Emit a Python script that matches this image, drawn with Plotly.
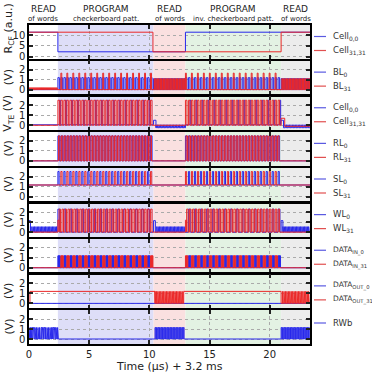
import plotly.graph_objects as go

# ---------------- data ----------------
phase_edges = [0.0, 2.4, 10.35, 13.0, 20.95, 23.35]
phase_titles = ["READ", "PROGRAM", "READ", "PROGRAM", "READ"]
phase_subtitles = ["of words", "checkerboard patt.", "of words",
                   "inv. checkerboard patt.", "of words"]
x_ticks = [0, 5, 10, 15, 20]
x_range = [0, 23.35]
x_title = "Time (µs) + 3.2 ms"


def train(t0, t1, n, lo, hi, duty=0.5, first=0, step=1, off=0.0):
    return ("train", t0, t1, n, lo, hi, duty, first, step, off)


def flat(t0, t1, v):
    return ("flat", t0, t1, v)


# panel 1 : R_CF
rcf_cell00 = [flat(0, 2.4, 11.3), flat(2.4, 13.0, 2.3), flat(13.0, 23.35, 11.3)]
rcf_cell3131 = [flat(0, 10.3, 11.3), flat(10.3, 20.95, 2.3), flat(20.95, 23.35, 11.3)]
# panel 2 : BL
bl_0 = [flat(0, 2.4, 0.0), train(2.4, 10.35, 32, 0, 1.2, 0.5),
        train(10.35, 13.0, 22, 0, 1.1, 0.5), train(13.0, 20.95, 32, 0, 1.2, 0.5),
        train(20.95, 23.35, 20, 0, 1.1, 0.5)]
bl_31 = [train(0, 2.4, 30, 0, 0.2, 0.5), train(2.4, 10.35, 32, 0, 1.65, 0.3, 1, 2),
         train(10.35, 13.0, 22, 0, 1.1, 0.35, 0, 1, 0.5), train(13.0, 20.95, 32, 0, 1.65, 0.3, 0, 2),
         train(20.95, 23.35, 20, 0, 1.1, 0.35, 0, 1, 0.5)]
# panel 3 : V_TE
vte_cell00 = [flat(0, 2.4, 0.05), train(2.4, 10.35, 32, 0.05, 2.5, 0.3, 0, 2, 0.55),
              flat(10.35, 10.55, 0.5), train(10.55, 13.0, 20, -0.25, 0.05, 0.5),
              train(13.0, 20.95, 32, 0.05, 2.5, 0.3, 1, 2, 0.55),
              flat(20.95, 21.15, 0.5), train(21.15, 23.35, 18, -0.25, 0.05, 0.5)]
vte_cell3131 = [flat(0, 2.4, 0.0), train(2.4, 10.35, 32, 0, 2.5, 0.5),
                flat(10.35, 13.0, 0.0), train(13.0, 20.95, 32, 0, 2.5, 0.5),
                flat(20.95, 21.25, 0.7), flat(21.25, 23.35, -0.1)]
# panel 4 : RL
rl_0 = [flat(0, 2.4, 0), train(2.4, 10.35, 32, 0, 2.5, 0.5),
        flat(10.35, 13.0, 0), train(13.0, 20.95, 32, 0, 2.5, 0.5), flat(20.95, 23.35, 0)]
rl_31 = [flat(0, 2.45, 0), train(2.45, 10.3, 32, 0, 2.5, 0.5),
         flat(10.3, 13.05, 0), train(13.05, 20.9, 32, 0, 2.5, 0.5), flat(20.9, 23.35, 0)]
# panel 5 : SL
sl_0 = [flat(0, 2.4, 1.15), train(2.4, 10.35, 32, 1.15, 2.5, 0.4, 0, 2),
        flat(10.35, 13.0, 1.15), train(13.0, 20.95, 32, 1.15, 2.5, 0.4, 1, 2), flat(20.95, 23.35, 1.15)]
sl_31 = [flat(0, 2.4, 1.15), train(2.4, 10.35, 32, 1.15, 2.5, 0.4, 1, 2),
         flat(10.35, 13.0, 1.15), train(13.0, 20.95, 32, 1.15, 2.5, 0.4, 0, 2), flat(20.95, 23.35, 1.15)]
# panel 6 : WL
wl_0 = [flat(0, 0.12, 1.15), train(0.12, 2.4, 20, 0, 0.55, 0.5),
        train(2.4, 10.35, 32, 0, 2.3, 0.6, 0, 2),
        flat(10.35, 10.5, 1.15), train(10.5, 13.0, 22, 0, 0.55, 0.5),
        train(13.0, 20.95, 32, 0, 2.3, 0.6, 1, 2),
        flat(20.95, 21.1, 1.15), train(21.1, 23.35, 20, 0, 0.55, 0.5)]
wl_31 = [flat(0, 2.4, 0), flat(2.4, 2.5, 1.2), train(2.5, 10.35, 32, 0, 2.3, 0.5),
         flat(10.35, 13.0, 0), flat(13.0, 13.1, 1.2), train(13.1, 20.95, 32, 0, 2.3, 0.5),
         flat(20.95, 23.35, 0)]
# panel 7 : DATA_IN
din_0 = [flat(0, 2.4, 0), train(2.4, 10.35, 32, 0, 1.2, 0.8, 0, 2),
         flat(10.35, 13.0, 0), train(13.0, 20.95, 32, 0, 1.2, 0.8, 1, 2), flat(20.95, 23.35, 0)]
din_31 = [flat(0, 2.4, 0), train(2.4, 10.35, 32, 0, 1.2, 0.8, 1, 2),
          flat(10.35, 13.0, 0), train(13.0, 20.95, 32, 0, 1.2, 0.8, 0, 2), flat(20.95, 23.35, 0)]
# panel 8 : DATA_OUT
dout_0 = [flat(0, 23.35, 0)]
dout_31 = [flat(0, 0.08, 0), flat(0.08, 10.47, 1.2), train(10.47, 12.85, 20, 0, 1.2, 0.5),
           flat(12.85, 20.95, 1.2), train(20.95, 23.35, 20, 0, 1.2, 0.5)]
# panel 9 : RWb
rwb = [train(0, 2.5, 20, 0, 1.15, 0.5), flat(2.5, 10.47, 0), train(10.47, 12.95, 20, 0, 1.15, 0.5),
       flat(12.95, 20.95, 0), train(20.95, 23.35, 20, 0, 1.15, 0.5)]

panel_ylabels = ["R<sub>CF</sub> (a.u.)", "(V)", "V<sub>TE</sub> (V)", "(V)", "(V)",
                 "(V)", "(V)", "(V)", "(V)"]
panel_yranges = [[-1.0, 14.6]] + [[-0.5, 2.9]] * 8
panel_yticks = [[0, 5, 10]] + [[0, 1, 2]] * 8
panel_filled = [False] * 6 + [True] + [False] * 2
panel_series = [
    [("Cell<sub>0,0</sub>", rcf_cell00), ("Cell<sub>31,31</sub>", rcf_cell3131)],
    [("BL<sub>0</sub>", bl_0), ("BL<sub>31</sub>", bl_31)],
    [("Cell<sub>0,0</sub>", vte_cell00), ("Cell<sub>31,31</sub>", vte_cell3131)],
    [("RL<sub>0</sub>", rl_0), ("RL<sub>31</sub>", rl_31)],
    [("SL<sub>0</sub>", sl_0), ("SL<sub>31</sub>", sl_31)],
    [("WL<sub>0</sub>", wl_0), ("WL<sub>31</sub>", wl_31)],
    [("DATA<sub>IN_0</sub>", din_0), ("DATA<sub>IN_31</sub>", din_31)],
    [("DATA<sub>OUT_0</sub>", dout_0), ("DATA<sub>OUT_31</sub>", dout_31)],
    [("RWb", rwb)],
]

# ---------------- style ----------------
BLUE = "rgb(40,40,235)"
RED = "rgb(235,40,40)"
series_colors = [BLUE, RED]
legend_colors = ["rgb(90,90,225)", "rgb(225,80,80)"]
phase_colors = ["rgba(255,255,255,0)", "rgb(222,222,248)", "rgb(250,224,224)",
                "rgb(227,242,227)", "rgb(236,236,236)"]
FONT = "DejaVu Sans"

W = H = 372
ml, mr, mt, mb = 29, 62, 25, 28
pw, ph = W - ml - mr, H - mt - mb
panel_h, panel_step = 34, 35.625


def pyp(p):
    return (H - mb - p) / ph


def pxp(p):
    return (p - ml) / pw


def build(segments):
    xs, ys = [], []
    for seg in segments:
        if seg[0] == "flat":
            _, t0, t1, v = seg
            xs += [t0, t1]
            ys += [v, v]
        else:
            _, t0, t1, n, lo, hi, duty, first, step, off = seg
            per = (t1 - t0) / n
            xs.append(t0)
            ys.append(lo)
            for i in range(first, n, step):
                s = t0 + (i + off) * per
                e = min(s + duty * per, t1)
                if s >= t1:
                    break
                xs += [s, s, e, e]
                ys += [lo, hi, hi, lo]
            xs.append(t1)
            ys.append(lo)
    return xs, ys


fig = go.Figure()
layout = dict(width=W, height=H, margin=dict(l=ml, r=mr, t=mt, b=mb),
              paper_bgcolor="white", plot_bgcolor="white", showlegend=False,
              font=dict(family=FONT, size=10, color="black"))
shapes, annotations = [], []

for k in range(9):
    top = mt + k * panel_step
    bot = top + panel_h
    sfx = "" if k == 0 else str(k + 1)
    xa, ya = "x" + sfx, "y" + sfx
    axis_common = dict(showline=True, linecolor="black", linewidth=1.5, mirror="allticks",
                       ticks="inside", ticklen=4, tickwidth=1.5, tickcolor="#222",
                       showgrid=True, gridcolor="#aaaaaa", griddash="dot", gridwidth=0.8,
                       zeroline=False, tickfont=dict(size=10, color="#222"))
    layout["xaxis" + sfx] = dict(axis_common, domain=[0, 1], anchor=ya, range=x_range,
                                 tickvals=x_ticks, showticklabels=(k == 8),
                                 **({} if k == 0 else {"matches": "x"}))
    layout["yaxis" + sfx] = dict(axis_common, domain=[pyp(bot), pyp(top)], anchor=xa,
                                 range=panel_yranges[k], tickvals=panel_yticks[k])
    for j in range(5):
        shapes.append(dict(type="rect", xref=xa, yref=ya + " domain",
                           x0=phase_edges[j], x1=phase_edges[j + 1], y0=0, y1=1,
                           fillcolor=phase_colors[j], line=dict(width=0), layer="below"))
    for s, (name, segs) in enumerate(panel_series[k]):
        xs, ys = build(segs)
        extra = dict(fill="toself", fillcolor=series_colors[s]) if panel_filled[k] else {}
        fig.add_trace(go.Scatter(x=xs, y=ys, mode="lines", name=name, xaxis=xa, yaxis=ya,
                                 line=dict(color=series_colors[s], width=1), **extra))
        ly = top + (13 if len(panel_series[k]) == 1 else 11.5 + 14 * s)
        shapes.append(dict(type="line", xref="paper", yref="paper",
                           x0=pxp(314), x1=pxp(326), y0=pyp(ly), y1=pyp(ly),
                           line=dict(color=legend_colors[s], width=1.2)))
        fs = 7.5 if name.startswith("DATA") else 8.5
        annotations.append(dict(text=name, xref="paper", yref="paper", x=pxp(331), y=pyp(ly),
                                xanchor="left", yanchor="middle", showarrow=False,
                                font=dict(size=fs, color="#333")))
    ycen = 29 if k == 0 else (top + bot) / 2
    annotations.append(dict(text=panel_ylabels[k], xref="paper", yref="paper",
                            x=pxp(8.5), y=pyp(ycen), textangle=-90,
                            xanchor="center", yanchor="middle", showarrow=False,
                            font=dict(size=11, color="#222")))

for j in range(5):
    xm = (phase_edges[j] + phase_edges[j + 1]) / 2
    annotations.append(dict(text=phase_titles[j], xref="x", yref="paper", x=xm, y=pyp(9.5),
                            showarrow=False, font=dict(size=9, color="#222"),
                            xanchor="center", yanchor="middle"))
    annotations.append(dict(text=phase_subtitles[j], xref="x", yref="paper", x=xm, y=pyp(19),
                            showarrow=False, font=dict(size=7, color="#222"),
                            xanchor="center", yanchor="middle"))

annotations.append(dict(text=x_title, xref="paper", yref="paper", x=0.5, y=pyp(366),
                        showarrow=False, font=dict(size=11, color="#222"),
                        xanchor="center", yanchor="middle"))

layout["shapes"] = shapes
layout["annotations"] = annotations
fig.update_layout(**layout)
fig.write_html("out.html")
